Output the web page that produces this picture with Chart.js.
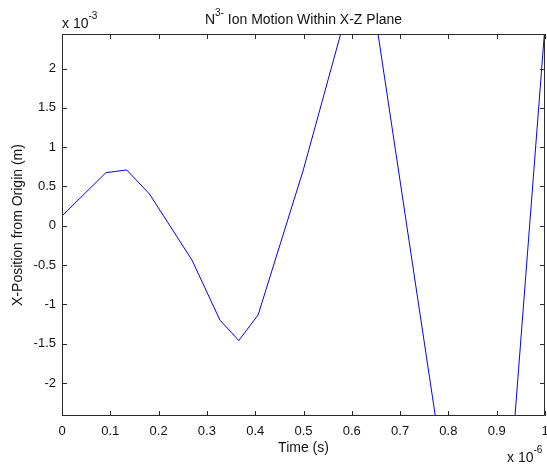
<!DOCTYPE html>
<html><head><meta charset="utf-8">
<script src="https://cdn.jsdelivr.net/npm/chart.js@4/dist/chart.umd.min.js"></script>
<style>html,body{margin:0;padding:0;background:#fff}#wrap{width:547px;height:466px;position:relative}</style>
</head><body><div id="wrap"><canvas id="c" width="547" height="466"></canvas></div>
<script>
// Time (x 1e-6 s)
const timeValues = [0, 0.091, 0.134, 0.181, 0.269, 0.327, 0.366, 0.406, 0.4996, 0.627, 0.882, 1.0];
// X-position (x 1e-3 m)
const xPosition = [0.125, 0.676, 0.71, 0.405, -0.435, -1.2, -1.46, -1.135, 0.71, 3.56, -6.89, 2.55];
const xTickValues = [0, 0.1, 0.2, 0.3, 0.4, 0.5, 0.6, 0.7, 0.8, 0.9, 1];
const yTickValues = [-2, -1.5, -1, -0.5, 0, 0.5, 1, 1.5, 2];
const xTickLabels = ['0', '0.1', '0.2', '0.3', '0.4', '0.5', '0.6', '0.7', '0.8', '0.9', '1'];
const yTickLabels = ['-2', '-1.5', '-1', '-0.5', '0', '0.5', '1', '1.5', '2'];

const FONT = '"Liberation Sans", Arial, sans-serif';
const AXIS_COLOR = '#2b2b2b';

const framePlugin = {
  id: 'matlabFrame',
  afterDatasetsDraw(chart) {
    const ctx = chart.ctx;
    const a = chart.chartArea;
    const xs = chart.scales.x, ys = chart.scales.y;
    ctx.save();
    ctx.strokeStyle = AXIS_COLOR;
    ctx.lineWidth = 1;
    ctx.beginPath();
    ctx.rect(Math.round(a.left) + 0.5, Math.round(a.top) + 0.5, Math.round(a.right - a.left) - 1, Math.round(a.bottom - a.top) - 1);
    ctx.stroke();
    const tl = 5;
    ctx.beginPath();
    xTickValues.forEach(v => {
      const px = Math.round(xs.getPixelForValue(v)) + 0.5;
      ctx.moveTo(px, a.bottom); ctx.lineTo(px, a.bottom - tl);
      ctx.moveTo(px, a.top); ctx.lineTo(px, a.top + tl);
    });
    yTickValues.forEach(v => {
      const py = Math.round(ys.getPixelForValue(v)) + 0.5;
      ctx.moveTo(a.left, py); ctx.lineTo(a.left + tl, py);
      ctx.moveTo(a.right, py); ctx.lineTo(a.right - tl, py);
    });
    ctx.stroke();
    ctx.restore();
  },
  afterDraw(chart) {
    const ctx = chart.ctx;
    const a = chart.chartArea;
    ctx.save();
    ctx.fillStyle = '#111';
    ctx.textBaseline = 'alphabetic';
    // Title with superscript
    const big = '14px ' + FONT, small = '10px ' + FONT;
    ctx.font = big; const wN = ctx.measureText('N').width;
    const rest = ' Ion Motion Within X-Z Plane';
    const wRest = ctx.measureText(rest).width;
    ctx.font = small; const wSup = ctx.measureText('3-').width;
    const total = wN + wSup + wRest;
    let x0 = (a.left + a.right) / 2 - total / 2;
    const by = 24;
    ctx.textAlign = 'left';
    ctx.font = big; ctx.fillText('N', x0, by);
    ctx.font = small; ctx.fillText('3-', x0 + wN, by - 8);
    ctx.font = big; ctx.fillText(rest, x0 + wN + wSup, by);
    // exponent labels
    const drawExp = (x, y, exp) => {
      ctx.font = big; ctx.fillText('x 10', x, y);
      const w = ctx.measureText('x 10').width;
      ctx.font = small; ctx.fillText(exp, x + w, y - 9);
    };
    drawExp(62, 28, '-3');
    drawExp(507, 462, '-6');
    // axis titles
    ctx.font = big;
    ctx.textAlign = 'center';
    ctx.fillText('Time (s)', (a.left + a.right) / 2, 452);
    ctx.translate(22, (a.top + a.bottom) / 2);
    ctx.rotate(-Math.PI / 2);
    ctx.fillText('X-Position from Origin (m)', 0, 0);
    ctx.restore();
  }
};

new Chart(document.getElementById('c'), {
  type: 'scatter',
  data: {
    datasets: [{
      data: timeValues.map((t, i) => ({ x: t, y: xPosition[i] })),
      showLine: true,
      borderColor: '#0000ff',
      borderWidth: 1,
      pointRadius: 0,
      tension: 0,
      fill: false
    }]
  },
  options: {
    responsive: false,
    animation: false,
    layout: { padding: { left: 0, top: 34, right: 2, bottom: 0 } },
    plugins: { legend: { display: false }, tooltip: { enabled: false }, title: { display: false } },
    scales: {
      x: {
        type: 'linear', min: 0, max: 1, position: 'bottom',
        grid: { display: false, drawTicks: false },
        border: { display: false },
        afterBuildTicks: s => { s.ticks = xTickValues.map(v => ({ value: v })); },
        afterFit: s => { s.height = 50; s.paddingLeft = 0; s.paddingRight = 0; },
        ticks: {
          autoSkip: false, maxRotation: 0, padding: 8, color: '#111',
          font: { family: FONT, size: 13 },
          callback: (v, i) => xTickLabels[i]
        }
      },
      y: {
        type: 'linear', min: -2.42, max: 2.44,
        grid: { display: false, drawTicks: false },
        border: { display: false },
        afterBuildTicks: s => { s.ticks = yTickValues.map(v => ({ value: v })); },
        afterFit: s => { s.width = 62; s.paddingTop = 0; s.paddingBottom = 0; },
        ticks: {
          autoSkip: false, padding: 6, color: '#111',
          font: { family: FONT, size: 13 },
          callback: (v, i) => yTickLabels[i]
        }
      }
    }
  },
  plugins: [framePlugin]
});
</script>
</body></html>
